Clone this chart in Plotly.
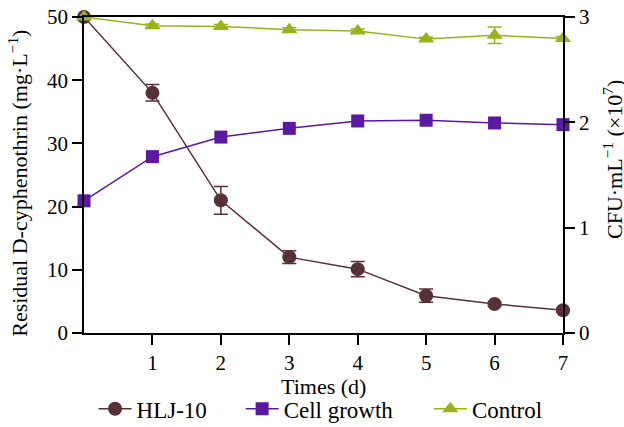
import plotly.graph_objects as go

days = [0, 1, 2, 3, 4, 5, 6, 7]
hlj10 = [50.0, 38.0, 21.0, 12.0, 10.1, 5.9, 4.6, 3.6]
hlj10_err = [0.0, 1.3, 2.2, 1.0, 1.2, 1.05, 0.3, 0.3]
control = [50.0, 48.6, 48.5, 48.0, 47.8, 46.5, 47.1, 46.6]
control_err = [0.0, 0.3, 0.3, 0.3, 0.3, 0.3, 1.3, 0.3]
cell_growth = [1.255, 1.674, 1.86, 1.943, 2.013, 2.02, 1.994, 1.978]
cell_err = [0.01, 0.01, 0.01, 0.01, 0.01, 0.01, 0.01, 0.01]

x_ticks = [1, 2, 3, 4, 5, 6, 7]
left_ticks = [0, 10, 20, 30, 40, 50]
right_ticks = [0, 1, 2, 3]

C_HLJ = "#573038"
C_CELL = "#5b18a0"
C_CTRL = "#98b21c"
FONT = "Liberation Serif"

fig = go.Figure()
fig.add_trace(go.Scatter(
    x=days, y=hlj10, name="HLJ-10", mode="lines+markers", legend="legend",
    line=dict(color=C_HLJ, width=1.5),
    marker=dict(symbol="circle", size=14, color=C_HLJ),
    error_y=dict(type="data", array=hlj10_err, color=C_HLJ, thickness=1.5, width=7),
    cliponaxis=False))
fig.add_trace(go.Scatter(
    x=days, y=cell_growth, name="Cell growth", mode="lines+markers", yaxis="y2",
    legend="legend2",
    line=dict(color=C_CELL, width=1.5),
    marker=dict(symbol="square", size=13, color=C_CELL),
    error_y=dict(type="data", array=cell_err, color=C_CELL, thickness=1.5, width=6),
    cliponaxis=False))
fig.add_trace(go.Scatter(
    x=days, y=control, name="Control", mode="lines+markers", legend="legend3",
    line=dict(color=C_CTRL, width=1.5),
    marker=dict(symbol="triangle-up", size=14, color=C_CTRL),
    error_y=dict(type="data", array=control_err, color=C_CTRL, thickness=1.5, width=7),
    cliponaxis=False))

axis_common = dict(showgrid=False, zeroline=False, showline=True, linecolor="black",
                   linewidth=1.5, ticks="outside", ticklen=10, tickwidth=1.5,
                   tickcolor="black", automargin=False,
                   tickfont=dict(family=FONT, size=21, color="black"))

legend_common = dict(orientation="h", xanchor="left", y=-0.24, yanchor="middle",
                     font=dict(family=FONT, size=23, color="black"),
                     bgcolor="rgba(0,0,0,0)", itemwidth=33)

fig.update_layout(
    template="none",
    width=624, height=427,
    margin=dict(l=84, r=61, t=17, b=94, autoexpand=False),
    paper_bgcolor="white", plot_bgcolor="white",
    font=dict(family=FONT, size=20, color="black"),
    xaxis=dict(range=[0, 7], tickvals=x_ticks, mirror=True, **axis_common),
    yaxis=dict(range=[0, 50], tickvals=left_ticks, **axis_common),
    yaxis2=dict(range=[0, 3], tickvals=right_ticks, overlaying="y", side="right",
                **axis_common),
    showlegend=True,
    legend=dict(x=0.02, **legend_common),
    legend2=dict(x=0.327, **legend_common),
    legend3=dict(x=0.72, **legend_common),
    annotations=[
        dict(text="Residual D-cyphenothrin (mg·L<sup>−1</sup>)", textangle=-90,
             xref="paper", yref="paper", x=-0.138, y=0.475, xanchor="center",
             yanchor="middle", showarrow=False,
             font=dict(family=FONT, size=22, color="black")),
        dict(text="CFU·mL<sup>−1</sup> (×10<sup>7</sup>)", textangle=-90,
             xref="paper", yref="paper", x=1.104, y=0.55, xanchor="center",
             yanchor="middle", showarrow=False,
             font=dict(family=FONT, size=22, color="black")),
        dict(text="Times (d)", xref="paper", yref="paper", x=0.5, y=-0.168,
             xanchor="center", yanchor="middle", showarrow=False,
             font=dict(family=FONT, size=22, color="black")),
    ],
)

fig.write_html("out.html", config={"displayModeBar": False},
               post_script="document.body.style.margin='0';document.body.style.padding='0';")
